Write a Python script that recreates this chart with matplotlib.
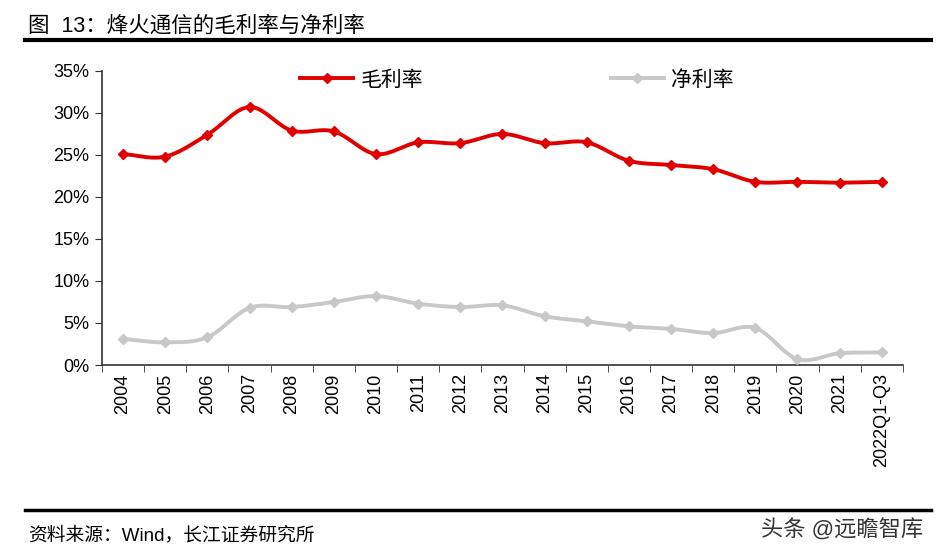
import numpy as np
import matplotlib
matplotlib.use("Agg")
import matplotlib.pyplot as plt
from matplotlib.lines import Line2D

plt.rcParams['font.family'] = ['Liberation Sans', 'Noto Sans CJK SC', 'DejaVu Sans']

years = ["2004", "2005", "2006", "2007", "2008", "2009", "2010", "2011", "2012",
         "2013", "2014", "2015", "2016", "2017", "2018", "2019", "2020", "2021",
         "2022Q1-Q3"]
gross_margin = [25.1, 24.8, 27.4, 30.7, 27.9, 27.8, 25.1, 26.5, 26.4, 27.5,
                26.4, 26.5, 24.3, 23.8, 23.3, 21.8, 21.8, 21.7, 21.8]
net_margin = [3.1, 2.7, 3.3, 6.8, 6.9, 7.5, 8.2, 7.3, 6.9, 7.1,
              5.8, 5.2, 4.6, 4.3, 3.8, 4.4, 0.7, 1.4, 1.5]

RED = "#e00000"
GREY = "#c8c8c8"


def smooth(x, y, n=20):
    # catmull-rom, close to excel's smoothed line
    x = np.asarray(x, float)
    y = np.asarray(y, float)
    px = np.concatenate([[2 * x[0] - x[1]], x, [2 * x[-1] - x[-2]]])
    py = np.concatenate([[2 * y[0] - y[1]], y, [2 * y[-1] - y[-2]]])
    xs, ys = [], []
    t = np.linspace(0, 1, n, endpoint=False)
    for i in range(1, len(px) - 2):
        for p, out in ((px, xs), (py, ys)):
            p0, p1, p2, p3 = p[i - 1], p[i], p[i + 1], p[i + 2]
            out.append(0.5 * ((2 * p1) + (-p0 + p2) * t
                              + (2 * p0 - 5 * p1 + 4 * p2 - p3) * t ** 2
                              + (-p0 + 3 * p1 - 3 * p2 + p3) * t ** 3))
    xs.append([x[-1]])
    ys.append([y[-1]])
    return np.concatenate(xs), np.concatenate(ys)


fig = plt.figure(figsize=(9.4, 5.56), dpi=100)
ax = fig.add_axes([0.1085, 0.3435, 0.852, 0.529])

x = np.arange(len(years))
for vals, col in ((gross_margin, RED), (net_margin, GREY)):
    sx, sy = smooth(x, vals)
    ax.plot(sx, sy, color=col, lw=2.8, solid_capstyle="round", zorder=3)
    ax.plot(x, vals, ls="none", marker="D", ms=5, color=col, zorder=4)

ax.set_xlim(-0.5, len(years) - 0.5)
ax.set_ylim(0, 35)
ax.set_yticks(np.arange(0, 36, 5))
ax.set_yticklabels([f"{v}%" for v in range(0, 36, 5)], fontsize=13)
ax.set_xticks(x)
ax.set_xticklabels(years, rotation=90, fontsize=13)
ax.set_xticks(np.arange(-0.5, len(years), 1), minor=True)
ax.tick_params(axis="x", which="major", length=0, pad=6)
ax.tick_params(axis="x", which="minor", length=5, direction="out", color="#333333")
ax.tick_params(axis="y", length=5, direction="out", color="#333333", pad=4)

for s in ("top", "right"):
    ax.spines[s].set_visible(False)
for s in ("left", "bottom"):
    ax.spines[s].set_color("#333333")
    ax.spines[s].set_linewidth(1.2)

handles = [Line2D([], [], color=RED, lw=2.8, marker="D", ms=5),
           Line2D([], [], color=GREY, lw=2.8, marker="D", ms=5)]
ax.legend(handles, ["毛利率", "净利率"], loc="center", bbox_to_anchor=(0.518, 0.97),
          ncol=2, frameon=False, fontsize=15, handlelength=2.55,
          columnspacing=9.0, handletextpad=0.35)

fig.text(0.03, 0.953, "图  13：烽火通信的毛利率与净利率", fontsize=15.5, va="center")
fig.add_artist(Line2D([0.027, 0.99], [0.928, 0.928], color="black", lw=3))
fig.add_artist(Line2D([0.027, 0.99], [0.082, 0.082], color="black", lw=2.5))
fig.text(0.03, 0.038, "资料来源：Wind，长江证券研究所", fontsize=13.5, va="center")
fig.text(0.982, 0.045, "头条 @远瞻智库", fontsize=16, va="center", ha="right",
         color="#333333")

fig.savefig("out.png", dpi=100)
